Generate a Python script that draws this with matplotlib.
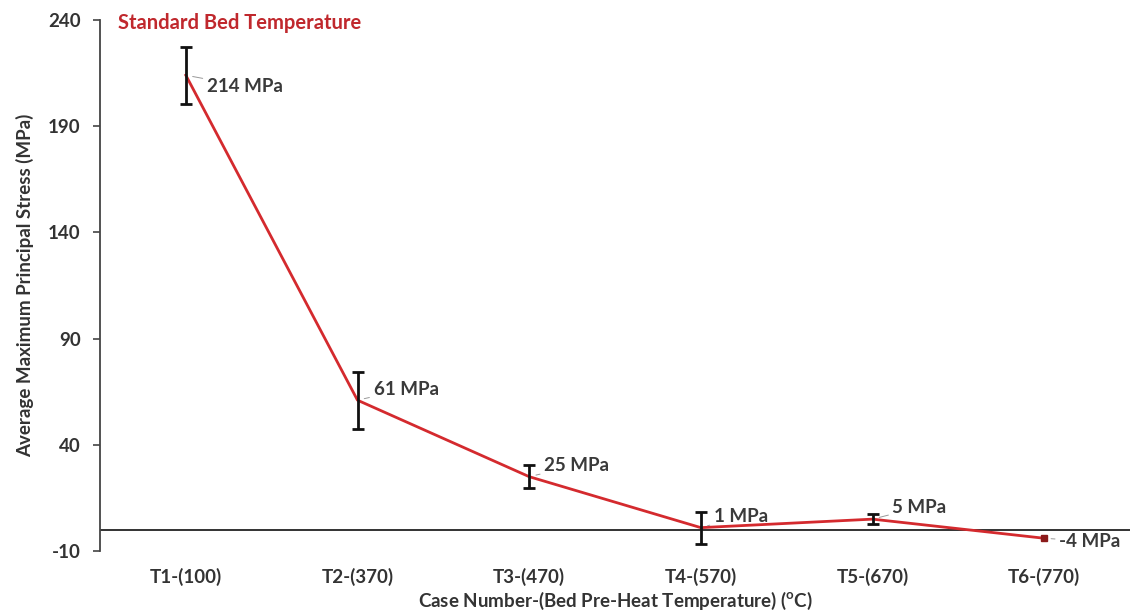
import matplotlib
matplotlib.use("Agg")
import matplotlib.pyplot as plt

plt.rcParams['font.family'] = ['Lato', 'DejaVu Sans']
plt.rcParams['mathtext.fontset'] = 'custom'
plt.rcParams['mathtext.rm'] = 'Lato'
plt.rcParams['mathtext.bf'] = 'Lato:bold'
plt.rcParams['axes.unicode_minus'] = False

cases = ['T1-(100)', 'T2-(370)', 'T3-(470)', 'T4-(570)', 'T5-(670)', 'T6-(770)']
stress = [214, 61, 25, 1, 5, -4]
errors = [13.5, 13.5, 5.5, 7.5, 2.5, 0]
value_labels = ['214 MPa', '61 MPa', '25 MPa', '1 MPa', '5 MPa', '-4 MPa']
label_offsets = [(21, -11), (16, 11), (15, 11), (13, 11), (20, 12), (15, -3)]
yticks = [-10, 40, 90, 140, 190, 240]

fig = plt.figure(figsize=(11.42, 6.12), dpi=100)
ax = fig.add_axes([100/1142, 1-551/612, 1030/1142, 531/612])

x = list(range(len(cases)))
red = '#d42a2e'
ax.plot(x, stress, color=red, lw=2.0, zorder=3)
ax.plot(x[-1], stress[-1], marker='s', ms=4, color='#8b1a1a', zorder=4)
ax.errorbar(x[:-1], stress[:-1], yerr=errors[:-1], fmt='none', ecolor='#111111',
            elinewidth=2.0, capsize=4, capthick=2.0, zorder=4)

ax.axhline(0, color='#222222', lw=1.3, zorder=2)

for xi, yi, lab, off in zip(x, stress, value_labels, label_offsets):
    ax.annotate(lab, xy=(xi, yi), xytext=off, textcoords='offset pixels',
                ha='left', va='center', fontsize=13.5, fontweight='bold', color='#3a3a3a',
                arrowprops=dict(arrowstyle='-', color='#999999', lw=0.7,
                                shrinkA=1, shrinkB=5))

ax.set_xlim(-0.5, 5.5)
ax.set_ylim(-10, 240)
ax.set_yticks(yticks)
ax.set_xticks(x)
ax.set_xticklabels(cases)

for s in ['top', 'right', 'bottom']:
    ax.spines[s].set_visible(False)
ax.spines['left'].set_color('#444444')
ax.spines['left'].set_linewidth(1.3)
ax.tick_params(axis='y', direction='out', length=5, width=1.2, color='#444444',
               labelsize=13.5, labelcolor='#333333', pad=9)
ax.tick_params(axis='x', length=0, labelsize=13.5, labelcolor='#333333', pad=12)
for t in ax.get_xticklabels() + ax.get_yticklabels():
    t.set_fontweight('bold')

ax.set_ylabel('Average Maximum Principal Stress (MPa)', fontsize=13.5, fontweight='bold',
              color='#333333', labelpad=10)
ax.set_xlabel(r'Case Number-(Bed Pre-Heat Temperature) ($^{\mathbf{o}}$C)', fontsize=13.5,
              fontweight='bold', color='#333333', labelpad=3)

ax.text(0.017, 0.995, 'Standard Bed Temperature', transform=ax.transAxes,
        ha='left', va='center', fontsize=14.5, fontweight='bold', color='#c0282d')

fig.savefig('out.png', dpi=100)
